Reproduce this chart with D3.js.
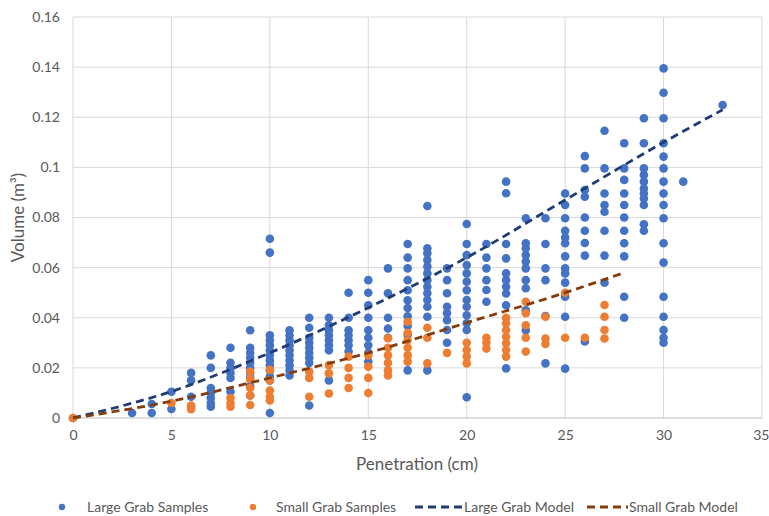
<!DOCTYPE html>
<html><head><meta charset="utf-8">
<script src="https://cdn.jsdelivr.net/npm/d3@7"></script>
<style>
body{margin:0;background:#fff;}
svg{display:block;font-family:Lato,"Open Sans",sans-serif;}
</style></head>
<body><svg id="c" width="769" height="516"></svg>
<script>
// ---- data ----
const xTicks = [0,5,10,15,20,25,30,35];
const yTicks = [0,0.02,0.04,0.06,0.08,0.1,0.12,0.14,0.16];
const yTickLabels = ["0","0.02","0.04","0.06","0.08","0.1","0.12","0.14","0.16"];
const seriesNames = ["Large Grab Samples","Small Grab Samples","Large Grab Model","Small Grab Model"];

// [penetration, [volumes...]]
const largeGrab = [
 [0,[0]],
 [3,[0.002]],
 [4,[0.002,0.0056]],
 [5,[0.0036,0.0105]],
 [6,[0.0045,0.0085,0.015,0.018]],
 [7,[0.0045,0.006,0.008,0.010,0.012,0.020,0.025]],
 [8,[0.0105,0.016,0.018,0.020,0.022,0.028]],
 [9,[0.009,0.0127,0.016,0.018,0.020,0.022,0.024,0.026,0.028,0.035]],
 [10,[0.002,0.015,0.0165,0.019,0.021,0.023,0.025,0.027,0.029,0.031,0.033,0.066,0.0715]],
 [11,[0.017,0.019,0.021,0.023,0.025,0.027,0.029,0.031,0.033,0.035]],
 [12,[0.005,0.022,0.024,0.026,0.028,0.030,0.032,0.036,0.040]],
 [13,[0.015,0.027,0.029,0.031,0.033,0.035,0.037,0.040]],
 [14,[0.0265,0.029,0.031,0.033,0.035,0.040,0.050]],
 [15,[0.0225,0.026,0.029,0.032,0.035,0.040,0.045,0.050,0.055]],
 [16,[0.032,0.0357,0.040,0.0498,0.0597]],
 [17,[0.019,0.0332,0.0367,0.0406,0.0439,0.047,0.051,0.055,0.0597,0.064,0.0694]],
 [18,[0.019,0.0404,0.0444,0.0471,0.0498,0.0524,0.055,0.0577,0.0604,0.063,0.0657,0.0677,0.0846]],
 [19,[0.030,0.0351,0.039,0.0418,0.0444,0.0498,0.055,0.0597]],
 [20,[0.0083,0.0351,0.0378,0.041,0.0444,0.0471,0.051,0.0544,0.0577,0.061,0.065,0.0694,0.0774]],
 [21,[0.0464,0.0511,0.055,0.0597,0.064,0.0694]],
 [22,[0.0198,0.045,0.0497,0.0524,0.055,0.0577,0.0637,0.0694,0.0897,0.0943]],
 [23,[0.035,0.043,0.0518,0.055,0.0597,0.0624,0.065,0.0677,0.0697,0.0797]],
 [24,[0.0218,0.0407,0.055,0.0597,0.0694,0.0797]],
 [25,[0.0197,0.0404,0.0484,0.054,0.0577,0.0597,0.0645,0.0697,0.072,0.0747,0.0797,0.085,0.0896]],
 [26,[0.0305,0.0648,0.0698,0.0747,0.080,0.0883,0.091,0.0996,0.1045]],
 [27,[0.054,0.0648,0.0747,0.0823,0.085,0.0896,0.0996,0.1146]],
 [28,[0.040,0.0484,0.0645,0.0697,0.0747,0.080,0.085,0.0896,0.095,0.0996,0.1096]],
 [29,[0.0747,0.0773,0.085,0.0876,0.0896,0.0916,0.0943,0.097,0.0996,0.1096,0.1196]],
 [30,[0.030,0.032,0.0351,0.0404,0.0484,0.062,0.0697,0.0797,0.085,0.0896,0.0943,0.0996,0.1043,0.1096,0.1196,0.1298,0.1395]],
 [31,[0.0943]],
 [33,[0.1249]]
];
const smallGrab = [
 [0,[0]],
 [5,[0.006]],
 [6,[0.0035,0.005]],
 [8,[0.0045,0.006,0.008]],
 [9,[0.0052,0.009,0.012,0.0155,0.0185]],
 [10,[0.007,0.0085,0.011,0.015,0.0192]],
 [12,[0.0085,0.016,0.0185]],
 [13,[0.0098,0.0178,0.0211]],
 [14,[0.012,0.016,0.020,0.0245]],
 [15,[0.010,0.016,0.0205,0.025]],
 [16,[0.017,0.019,0.022,0.025,0.028,0.0318]],
 [17,[0.0225,0.025,0.028,0.031,0.034,0.0384]],
 [18,[0.0218,0.032,0.036]],
 [19,[0.026]],
 [20,[0.0218,0.0245,0.0271,0.030]],
 [21,[0.0277,0.030,0.032]],
 [22,[0.0245,0.0271,0.0298,0.0324,0.0351,0.0378,0.040]],
 [23,[0.0265,0.032,0.037,0.0418,0.0464]],
 [24,[0.0295,0.0317,0.0404]],
 [25,[0.032,0.050]],
 [26,[0.032]],
 [27,[0.0317,0.0351,0.0404,0.0451]]
];
const largeModelX = [0,5,10,15,20,25,30,33];
const largeModelY = [0,0.0106,0.026,0.044,0.064,0.087,0.110,0.123];
const smallModelX = [0,5,10,15,20,25,28];
const smallModelY = [0,0.0067,0.016,0.026,0.038,0.050,0.058];

// ---- drawing ----
const svg = d3.select("#c");
const x = d3.scaleLinear().domain([0,35]).range([73,762]);
const y = d3.scaleLinear().domain([0,0.16]).range([418,17]);
const blue="#4472C4", orange="#ED7D31", darkBlue="#1F3D73", brown="#843C0C";
const txt="#595959";
const font="Lato,'Open Sans',sans-serif";

// gridlines
svg.append("g").selectAll("line").data(yTicks.slice(1)).join("line")
  .attr("x1",x(0)).attr("x2",x(35)).attr("y1",d=>y(d)).attr("y2",d=>y(d))
  .attr("stroke","#d9d9d9").attr("stroke-width",1);
svg.append("g").selectAll("line").data(xTicks).join("line")
  .attr("x1",d=>x(d)).attr("x2",d=>x(d)).attr("y1",y(0)).attr("y2",y(0.16))
  .attr("stroke","#d9d9d9").attr("stroke-width",1);
svg.append("line").attr("x1",x(0)).attr("x2",x(35)).attr("y1",y(0)).attr("y2",y(0))
  .attr("stroke","#bfbfbf").attr("stroke-width",1);

// axes labels via d3 axes
const yAxis = d3.axisLeft(y).tickValues(yTicks).tickFormat((d,i)=>yTickLabels[i]).tickSize(0).tickPadding(13);
const gy = svg.append("g").attr("transform",`translate(${x(0)},0)`).call(yAxis);
const xAxis = d3.axisBottom(x).tickValues(xTicks).tickFormat(d3.format("d")).tickSize(0).tickPadding(12);
const gx = svg.append("g").attr("transform",`translate(0,${y(0)})`).call(xAxis);
[gy,gx].forEach(g=>{
  g.select(".domain").remove();
  g.selectAll("text").attr("fill",txt).style("font-size","14px").style("font-family",font);
});
// keep the last x label inside the window
gx.selectAll(".tick").filter(d=>d===35).select("text").attr("text-anchor","end").attr("dx","7");

// axis titles
svg.append("text").attr("x",417).attr("y",470).attr("text-anchor","middle")
  .attr("fill",txt).style("font-size","17px").text("Penetration (cm)");
svg.append("text").attr("transform",`translate(24,${(y(0)+y(0.16))/2}) rotate(-90)`)
  .attr("text-anchor","middle").attr("fill",txt).style("font-size","17px")
  .text("Volume (m³)");

// points
const flat = arr => arr.flatMap(([px,vals])=>vals.map(v=>({x:px,y:v})));
svg.append("g").selectAll("circle").data(flat(largeGrab)).join("circle")
  .attr("cx",d=>x(d.x)).attr("cy",d=>y(d.y)).attr("r",4.3).attr("fill",blue);
svg.append("g").selectAll("circle").data(flat(smallGrab)).join("circle")
  .attr("cx",d=>x(d.x)).attr("cy",d=>y(d.y)).attr("r",4.3).attr("fill",orange);

// model lines
const line = d3.line().x(d=>x(d[0])).y(d=>y(d[1])).curve(d3.curveMonotoneX);
svg.append("path").attr("d",line(d3.zip(largeModelX,largeModelY)))
  .attr("fill","none").attr("stroke",darkBlue).attr("stroke-width",2.8).attr("stroke-dasharray","8,5");
svg.append("path").attr("d",line(d3.zip(smallModelX,smallModelY)))
  .attr("fill","none").attr("stroke",brown).attr("stroke-width",2.8).attr("stroke-dasharray","8,5");

// legend
const ly = 507;
const leg = svg.append("g").style("font-size","14px").attr("fill",txt);
const items = [
  {type:"dot",color:blue,sx:62,tx:87},
  {type:"dot",color:orange,sx:253,tx:276},
  {type:"line",color:darkBlue,sx:415,ex:462,tx:464},
  {type:"line",color:brown,sx:587,ex:628,tx:629}
];
items.forEach((it,i)=>{
  if(it.type==="dot"){
    leg.append("circle").attr("cx",it.sx).attr("cy",ly).attr("r",3.2).attr("fill",it.color);
  } else {
    leg.append("line").attr("x1",it.sx).attr("x2",it.ex).attr("y1",ly).attr("y2",ly)
      .attr("stroke",it.color).attr("stroke-width",2.8).attr("stroke-dasharray","8,5");
  }
  leg.append("text").attr("x",it.tx).attr("y",ly).attr("dy","0.35em").attr("fill",txt).text(seriesNames[i]);
});
</script></body></html>
